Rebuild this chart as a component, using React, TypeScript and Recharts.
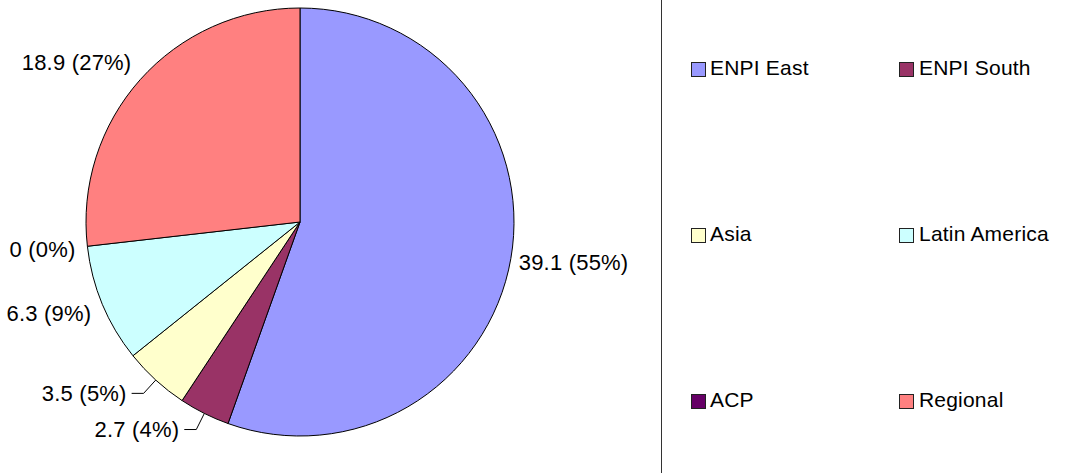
import React from 'react';
import { PieChart, Pie, Cell, Legend } from 'recharts';

const categories = ['ENPI East', 'ENPI South', 'Asia', 'Latin America', 'ACP', 'Regional'];
const values = [39.1, 2.7, 3.5, 6.3, 0, 18.9];
const colors = ['#9999FF', '#993366', '#FFFFCC', '#CCFFFF', '#660066', '#FF8080'];

const data = categories.map((name, i) => ({ name, value: values[i] }));

const RAD = Math.PI / 180;
const FONT = '"Liberation Sans", Arial, Helvetica, sans-serif';

function renderLabel(props: any) {
  const { cx, cy, midAngle, outerRadius, percent, value } = props;
  const cos = Math.cos(-midAngle * RAD);
  const sin = Math.sin(-midAngle * RAD);
  const text = `${value} (${Math.round(percent * 100)}%)`;
  const right = cos >= 0;
  const anchor = right ? 'start' : 'end';
  const style = { fontFamily: FONT, fontSize: 22, fill: '#000', letterSpacing: 0.2 };
  if (percent > 0 && percent < 0.06) {
    const ex = cx + outerRadius * cos;
    const ey = cy + outerRadius * sin;
    const bx = cx + (outerRadius + 18) * cos;
    const by = cy + (outerRadius + 18) * sin;
    const hx = bx + (right ? 12 : -12);
    const tx = hx + (right ? 5 : -5);
    return (
      <g>
        <polyline points={`${ex},${ey} ${bx},${by} ${hx},${by}`} fill="none" stroke="#000" strokeWidth={1} />
        <text x={tx} y={by} textAnchor={anchor} dominantBaseline="central" style={style}>{text}</text>
      </g>
    );
  }
  const d = outerRadius + (right ? 8 : 12);
  const x = cx + d * cos;
  const y = cy + d * sin + 13 * sin;
  return (
    <text x={x} y={y} textAnchor={anchor} dominantBaseline="central" style={style}>{text}</text>
  );
}

function LegendContent() {
  return (
    <div style={{ position: 'relative', width: 410, height: 473, borderLeft: '1px solid #333', boxSizing: 'border-box' }}>
      {categories.map((name, i) => {
        const col = i % 2;
        const row = Math.floor(i / 2);
        const cyRow = 68 + row * 166;
        const left = col === 0 ? 29 : 237;
        return (
          <div key={name} style={{ position: 'absolute', left, top: cyRow - 13, height: 26, display: 'flex', alignItems: 'center', whiteSpace: 'nowrap' }}>
            <span style={{ display: 'inline-block', width: 13, height: 13, background: colors[i], border: '1px solid #222', marginTop: 3 }} />
            <span style={{ marginLeft: col === 0 ? 4 : 5, fontFamily: FONT, fontSize: 21, color: '#000', lineHeight: '26px', letterSpacing: 0.2 }}>{name}</span>
          </div>
        );
      })}
    </div>
  );
}

export default function App() {
  return (
    <div style={{ position: 'absolute', left: 0, top: 0, width: 1071, height: 473, background: '#fff' }}>
      <PieChart width={1071} height={473} margin={{ top: 0, right: 0, bottom: 0, left: 0 }}>
        <Pie
          data={data}
          dataKey="value"
          nameKey="name"
          cx={300}
          cy={222}
          outerRadius={214}
          startAngle={90}
          endAngle={-270}
          stroke="#000"
          strokeWidth={1}
          isAnimationActive={false}
          labelLine={false}
          label={renderLabel}
        >
          {data.map((d, i) => (
            <Cell key={d.name} fill={colors[i]} />
          ))}
        </Pie>
        <Legend
          layout="vertical"
          align="right"
          verticalAlign="middle"
          content={() => <LegendContent />}
          wrapperStyle={{ position: 'absolute', left: 661, top: 0, width: 410, height: 473, right: 'auto', bottom: 'auto' }}
        />
      </PieChart>
    </div>
  );
}
